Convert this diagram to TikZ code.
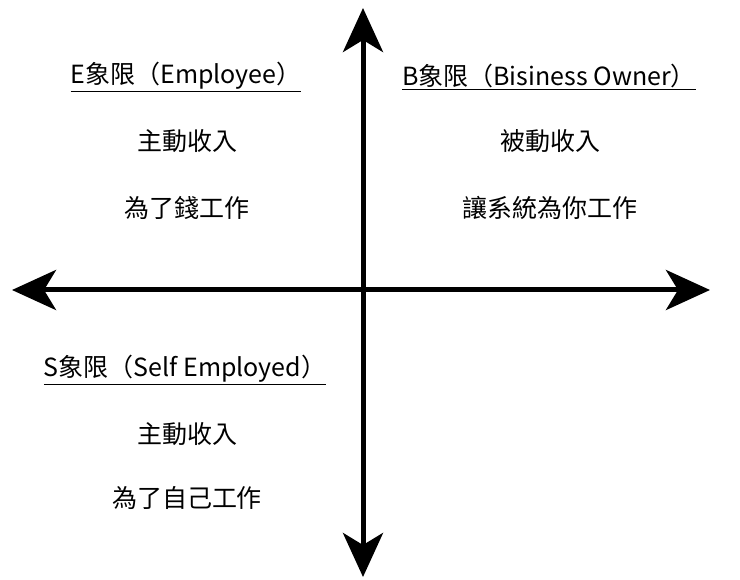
\documentclass[tikz,border=0pt]{standalone}
\usepackage{fontspec}
\setmainfont{Noto Sans CJK TC}
\usetikzlibrary{arrows.meta}
\begin{document}
\begin{tikzpicture}[x=1pt,y=-1pt,
  axis/.style={line width=5pt,{Stealth[length=44pt,width=40pt,inset=12pt]}-{Stealth[length=44pt,width=40pt,inset=12pt]}},
  txt/.style={font=\fontsize{25}{28}\selectfont,inner sep=0pt}]
\useasboundingbox (0,0) rectangle (740,580);
\coordinate (L) at (12,290);
\coordinate (R) at (710,290);
\coordinate (T) at (363,8);
\coordinate (B) at (363,577);
\draw[axis] (L) -- (R);
\draw[axis] (T) -- (B);
\node[txt] (e1) at (186,77) {\underline{E象限（Employee）}};
\node[txt] (e2) at (187,141) {主動收入};
\node[txt] (e3) at (187,208) {為了錢工作};
\node[txt] (b1) at (549,77) {\underline{B象限（Bisiness Owner）}};
\node[txt] (b2) at (550,141) {被動收入};
\node[txt] (b3) at (550,208) {讓系統為你工作};
\node[txt] (s1) at (185,370) {\underline{S象限（Self Employed）}};
\node[txt] (s2) at (187,434) {主動收入};
\node[txt] (s3) at (187,498) {為了自己工作};
\end{tikzpicture}
\end{document}
